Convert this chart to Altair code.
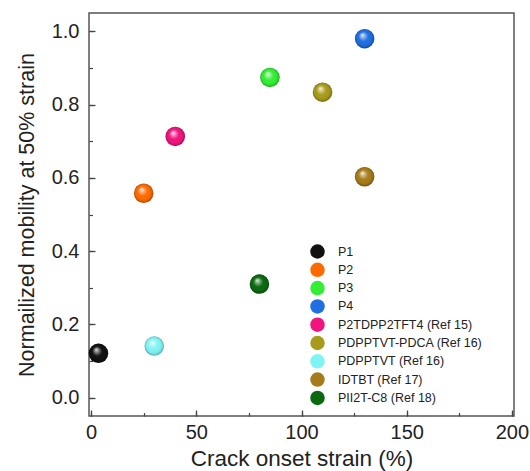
import altair as alt
import pandas as pd

names = ["P1", "P2", "P3", "P4", "P2TDPP2TFT4 (Ref 15)", "PDPPTVT-PDCA (Ref 16)",
         "PDPPTVT (Ref 16)", "IDTBT (Ref 17)", "PII2T-C8 (Ref 18)"]
crack = [3.5, 25, 85, 130, 40, 110, 30, 130, 80]
mobility = [0.121, 0.558, 0.874, 0.980, 0.713, 0.834, 0.141, 0.603, 0.310]
colors = ["#111111", "#ff6a00", "#33ee33", "#1f6fe0", "#f0147f", "#a89a1a",
          "#80f4f4", "#a67c1a", "#0b6a10"]

x_major = [0, 50, 100, 150, 200]
x_minor = [0, 25, 50, 75, 100, 125, 150, 175, 200]
y_major = [0.0, 0.2, 0.4, 0.6, 0.8, 1.0]
y_minor = [0.0, 0.1, 0.2, 0.3, 0.4, 0.5, 0.6, 0.7, 0.8, 0.9, 1.0]

df = pd.DataFrame({"name": names, "crack": crack, "mob": mobility})

FONT = "Liberation Sans"
TXT = "#222222"
xscale = alt.Scale(domain=[-1, 201], nice=False, zero=False)
yscale = alt.Scale(domain=[-0.05, 1.05], nice=False, zero=False)

base = alt.Chart(df).mark_circle(size=380, opacity=1).encode(
    x=alt.X("crack:Q", scale=xscale,
            axis=alt.Axis(values=x_major, ticks=False, domain=False, grid=False,
                          labelFontSize=20, labelPadding=6, labelColor=TXT,
                          labelFont=FONT, title="Crack onset strain (%)",
                          titleFontSize=22.5, titleFont=FONT, titleFontWeight="normal",
                          titleColor=TXT, titlePadding=5)),
    y=alt.Y("mob:Q", scale=yscale,
            axis=alt.Axis(values=y_major, format=".1f", ticks=False, domain=False,
                          grid=False, labelFontSize=20, labelPadding=10,
                          labelColor=TXT, labelFont=FONT,
                          title="Normailized mobility at 50% strain",
                          titleFontSize=21.5, titleFont=FONT,
                          titleFontWeight="normal", titleColor=TXT, titlePadding=13)),
    color=alt.Color("name:N", scale=alt.Scale(domain=names, range=colors),
                    legend=alt.Legend(orient="none", legendX=221, legendY=231,
                                      title=None, symbolType="circle",
                                      symbolSize=210, symbolStrokeWidth=0,
                                      symbolOpacity=1,
                                      labelFontSize=12.5, labelFont=FONT,
                                      labelColor=TXT, rowPadding=3.3,
                                      labelOffset=13)),
)

gradient = {
    "gradient": "radial",
    "x1": 0.38, "y1": 0.3, "r1": 0.0,
    "x2": 0.5, "y2": 0.5, "r2": 0.5,
    "stops": [
        {"offset": 0.0, "color": "rgba(255,255,255,0.95)"},
        {"offset": 0.18, "color": "rgba(255,255,255,0.55)"},
        {"offset": 0.5, "color": "rgba(255,255,255,0)"},
        {"offset": 0.8, "color": "rgba(0,0,0,0.04)"},
        {"offset": 1.0, "color": "rgba(0,0,0,0.3)"},
    ],
}

shine = alt.Chart(df).mark_circle(size=380, fill=gradient, opacity=1).encode(
    x=alt.X("crack:Q", scale=xscale,
            axis=alt.Axis(values=x_major, ticks=True, tickSize=6, tickWidth=1.3,
                          tickColor="#444", labels=False, domain=False, grid=False,
                          title=None, offset=-6, orient="bottom")),
    y=alt.Y("mob:Q", scale=yscale,
            axis=alt.Axis(values=y_major, ticks=True, tickSize=6, tickWidth=1.3,
                          tickColor="#444", labels=False, domain=False, grid=False,
                          title=None, offset=-6, orient="left")),
)

minor = alt.Chart(df).mark_circle(size=1, opacity=0).encode(
    x=alt.X("crack:Q", scale=xscale,
            axis=alt.Axis(values=x_minor, ticks=True, tickSize=3.5, tickWidth=1.2,
                          tickColor="#444", labels=False, domain=False, grid=False,
                          title=None, offset=-3.5, orient="bottom")),
    y=alt.Y("mob:Q", scale=yscale,
            axis=alt.Axis(values=y_minor, ticks=True, tickSize=3.5, tickWidth=1.2,
                          tickColor="#444", labels=False, domain=False, grid=False,
                          title=None, offset=-3.5, orient="left")),
)

chart = alt.layer(base, shine, minor).resolve_axis(
    x="independent", y="independent"
).properties(
    width=425, height=403,
    padding={"left": 89, "top": 13, "right": 16, "bottom": 55},
    autosize="none",
).configure_view(stroke="#555555", strokeWidth=1.5)

chart.save("out.html", embed_options={"renderer": "svg", "actions": False})
